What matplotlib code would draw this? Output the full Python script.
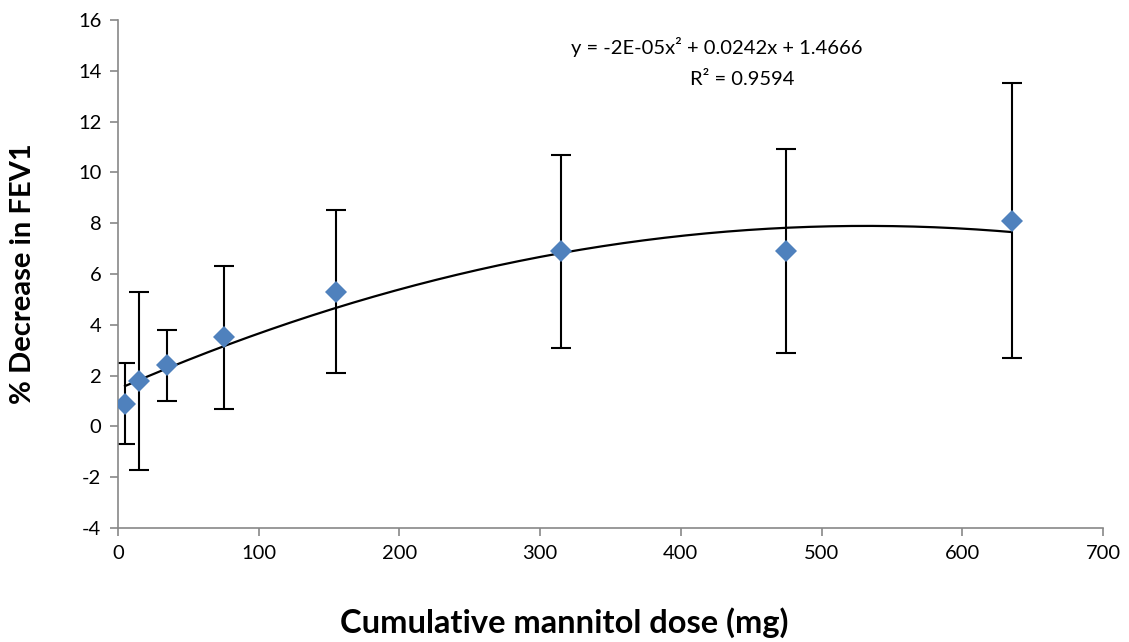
import numpy as np
import matplotlib.pyplot as plt

plt.rcParams['font.family'] = ['Lato', 'DejaVu Sans']
plt.rcParams['axes.unicode_minus'] = False

dose = [5, 15, 35, 75, 155, 315, 475, 635]
fev_drop = [0.9, 1.8, 2.4, 3.5, 5.3, 6.9, 6.9, 8.1]
err_upper = [2.5, 5.3, 3.8, 6.3, 8.5, 10.7, 10.9, 13.5]
err_lower = [-0.7, -1.7, 1.0, 0.7, 2.1, 3.1, 2.9, 2.7]

x = np.array(dose)
y = np.array(fev_drop)
yerr = [y - np.array(err_lower), np.array(err_upper) - y]

# second order trendline, like the spreadsheet one
coef = np.polyfit(x, y, 2)
xs = np.linspace(x.min(), x.max(), 300)
ys = np.polyval(coef, xs)

fig = plt.figure(figsize=(11.29, 6.42), dpi=100)
ax = fig.add_axes([0.1045, 0.1776, 0.8725, 0.7914])

ax.errorbar(x, y, yerr=yerr, fmt='none', ecolor='black', elinewidth=1.5,
            capsize=7, capthick=1.5, zorder=2)
ax.plot(xs, ys, color='black', lw=1.6, zorder=3)
ax.plot(x, y, 'D', color='#4F81BD', markersize=11, markeredgewidth=0, zorder=4)

ax.set_xlim(0, 700)
ax.set_ylim(-4, 16)
ax.set_xticks(range(0, 701, 100))
ax.set_yticks(range(-4, 17, 2))

for s in ['top', 'right']:
    ax.spines[s].set_visible(False)
for s in ['left', 'bottom']:
    ax.spines[s].set_color('#888888')
    ax.spines[s].set_linewidth(1.2)
ax.tick_params(direction='out', length=6, width=1.2, color='#888888',
               labelsize=14.5, pad=6)

ax.set_xlabel('Cumulative mannitol dose (mg)', fontsize=23.5, fontweight='bold')
ax.xaxis.set_label_coords(0.453, -0.155)
ax.set_ylabel('% Decrease in FEV1', fontsize=21, fontweight='bold')
ax.yaxis.set_label_coords(-0.083, 0.5)

ax.text(0.608, 0.947, 'y = -2E-05x² + 0.0242x + 1.4666',
        transform=ax.transAxes, ha='center', va='center', fontsize=14.5)
ax.text(0.634, 0.882, 'R² = 0.9594',
        transform=ax.transAxes, ha='center', va='center', fontsize=14.5)

fig.savefig('out.png', dpi=100)
